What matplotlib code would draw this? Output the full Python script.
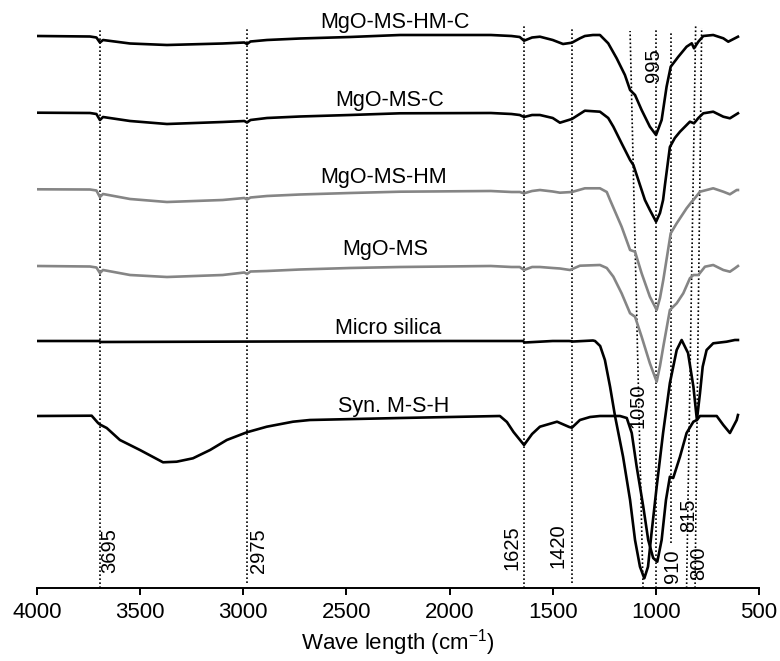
import matplotlib
matplotlib.use("Agg")
import matplotlib.pyplot as plt

plt.rcParams["font.family"] = ["Liberation Sans", "DejaVu Sans"]

# stacked FTIR spectra, wavenumber (cm-1) vs. transmittance (a.u., offset)
hmc_wn = [4000, 3743, 3712, 3695, 3680, 3549, 3370, 3100, 2995, 2982, 2965, 2885, 2725, 2483, 2240,
          1800, 1700, 1660, 1639, 1600, 1562, 1500, 1450, 1407, 1368, 1344, 1305, 1271, 1231, 1190,
          1150, 1125, 1101, 1069, 1029, 999, 972, 948, 928, 891, 851, 826, 815, 794, 770, 722, 673,
          649, 617, 602]
hmc_t = [552, 551.5, 550.5, 545.5, 548, 544.5, 543, 544.5, 545.5, 544, 546.5, 548, 549.5, 551, 553,
         553, 552, 551, 547.3, 550.5, 551.3, 548, 544, 545.3, 549.7, 552, 553, 553, 544.7, 529.7,
         513, 498, 493, 478, 461.3, 453, 468, 501.3, 521.3, 531.3, 541.3, 544.7, 539.7, 546.3, 552,
         553, 549.7, 546.3, 549.7, 551.3]

c_wn = [4000, 3743, 3712, 3695, 3680, 3549, 3370, 3100, 2995, 2982, 2965, 2885, 2725, 2483, 2240,
        1800, 1700, 1660, 1639, 1600, 1562, 1500, 1465, 1407, 1344, 1271, 1231, 1206, 1166, 1125,
        1109, 1085, 1053, 1029, 999, 980, 965, 956, 932, 908, 883, 835, 815, 794, 770, 722, 673,
        641, 602]
c_t = [475.3, 475, 474, 468, 471, 467, 464, 466, 467, 465.5, 468, 470, 471.5, 473, 474.7,
       475, 474, 473, 471, 473, 473, 470, 465.3, 469, 477.3, 476.3, 470, 461.3, 444.7, 428,
       423, 408, 388, 378, 366.3, 375, 388, 403, 441, 450, 456.3, 466.3, 464.7, 470, 474.7,
       476.3, 471.3, 469.7, 474.7]

hm_wn = [4000, 3743, 3712, 3695, 3680, 3549, 3370, 3100, 2995, 2982, 2965, 2885, 2725, 2483, 2240,
         1800, 1700, 1660, 1639, 1600, 1562, 1500, 1465, 1407, 1344, 1271, 1238, 1222, 1166, 1125,
         1101, 1069, 1029, 996, 980, 964, 928, 899, 851, 826, 818, 786, 722, 673, 641, 608, 602]
hm_t = [398.7, 398.5, 397.5, 391, 394, 389, 386, 388, 390, 388.5, 390.5, 392, 393.5, 395, 396.3,
        397, 396, 396, 394.7, 397, 398, 396.5, 395.3, 396, 399.7, 399.7, 396, 388, 361.3, 338,
        336.3, 314.7, 291.3, 278, 290, 308, 354.7, 364.7, 379.7, 386.3, 388, 396.3, 399.7, 396.3,
        393.7, 398, 398]

ms_wn = [4000, 3743, 3712, 3695, 3680, 3549, 3370, 3100, 2995, 2982, 2965, 2885, 2725, 2483, 2240,
         1800, 1700, 1660, 1639, 1600, 1562, 1500, 1465, 1416, 1368, 1271, 1238, 1206, 1166, 1125,
         1101, 1069, 1029, 996, 980, 964, 932, 899, 867, 835, 818, 794, 762, 722, 673, 641, 617, 602]
ms_t = [322, 321.5, 320.5, 315, 318, 313, 311, 313, 315.5, 314, 316.5, 317, 318.5, 320, 321,
        322, 321, 321, 318, 321, 321, 320, 319.5, 318, 322.3, 323, 320, 311.3, 294.7, 274.7,
        271.3, 251.3, 224.7, 206.3, 222, 241.3, 278, 284.7, 294.7, 309.7, 313, 313, 321.3, 323,
        318, 316.3, 319.7, 322]

si_wn = [4000, 3700, 3690, 2000, 1700, 1645, 1635, 1500, 1420, 1400, 1305, 1295, 1270, 1247, 1222,
         1198, 1159, 1125, 1101, 1077, 1056, 1038, 1021, 996, 965, 932, 899, 875, 844, 818, 801,
         786, 773, 754, 722, 657, 617, 602]
si_t = [247, 247, 246, 247, 247, 247, 245.5, 247, 247, 246.5, 247.5, 247, 242, 228, 201.3,
        172, 131.3, 88, 48, 21.3, 9.7, 21.3, 55, 101.3, 155, 205, 238, 248, 235, 201.3, 168,
        195, 221.3, 238, 244.7, 246.3, 248, 248]

syn_wn = [4000, 3735, 3704, 3695, 3662, 3598, 3501, 3389, 3323, 3244, 3161, 3080, 2983, 2886, 2759,
          2677, 2240, 1756, 1722, 1690, 1639, 1600, 1562, 1479, 1420, 1407, 1368, 1319, 1271, 1174,
          1141, 1117, 1093, 1061, 1037, 1013, 993, 972, 951, 932, 916, 883, 851, 818, 801, 786,
          705, 673, 641, 608, 602]
syn_t = [172, 172.3, 165, 163.5, 160, 148, 138, 125.7, 126.3, 129.7, 138, 148, 155.7, 161.3, 166.3,
         168, 170, 172, 166, 156, 143, 154, 161.3, 166.3, 161, 160.3, 168, 171, 172, 172,
         170, 155, 121.3, 81.3, 48, 30, 26.3, 48, 88, 111.3, 110, 131.3, 155, 166.3, 168, 172,
         172, 163, 155, 168, 173]

names = ["MgO-MS-HM-C", "MgO-MS-C", "MgO-MS-HM", "MgO-MS", "Micro silica", "Syn. M-S-H"]
colors = ["black", "black", "#858585", "#858585", "black", "black"]
spectra = [(hmc_wn, hmc_t), (c_wn, c_t), (hm_wn, hm_t), (ms_wn, ms_t), (si_wn, si_t), (syn_wn, syn_t)]
name_wn = [2265, 2289, 2318, 2313, 2298, 2269]
name_t = [560, 482, 405, 333, 254, 176]

# marker lines (hand drawn in the original, some slightly slanted)
band_labels = ["3695", "2975", "1625", "1420", "1050", "995", "910", "815", "800"]
band_bot = [3695, 2980, 1640, 1408, 1062, 998, 928, 851, 810]
band_top = [3695, 2980, 1640, 1408, 1125, 998, 928, 807, 778]
band_top_t = [560, 561, 562, 559, 557, 559, 556, 562, 560]
band_bot_t = [0, 5, 0, 5, 0, 0, 45, 0, 0]
label_wn = [3646, 2924, 1699, 1474, 1087, 1013, 919, 843, 794]
label_t = [15, 15, 18, 20, 160, 506, 5, 56, 8]

fig = plt.figure(figsize=(7.8, 6.61), dpi=100)
ax = fig.add_axes([37 / 780, 73 / 661, 722 / 780, 588 / 661])

for lo, hi, tb, tt in zip(band_bot, band_top, band_bot_t, band_top_t):
    ax.plot([lo, hi], [tb, tt], color="black", lw=1.2, ls=(0, (1, 1.4)), zorder=1)

for (wn, t), col in zip(spectra, colors):
    ax.plot(wn, t, color=col, lw=1.9, solid_joinstyle="round", zorder=3)

for n, x, y in zip(names, name_wn, name_t):
    ax.text(x, y, n, ha="center", va="baseline", fontsize=15.5)

for lab, x, y in zip(band_labels, label_wn, label_t):
    ax.text(x, y, lab, rotation=90, ha="center", va="bottom", fontsize=14.5)

ax.set_xlim(4000, 500)
ax.set_ylim(0, 588)
ax.set_xticks(range(4000, 499, -500))
ax.set_yticks([])
for s in ("left", "right", "top"):
    ax.spines[s].set_visible(False)
ax.spines["bottom"].set_linewidth(1.4)
ax.tick_params(axis="x", direction="out", length=5, width=1.4, labelsize=16, pad=5)
ax.set_xlabel(r"Wave length (cm$^{\mathregular{-1}}$)", fontsize=16, labelpad=3)

fig.savefig("out.png", dpi=100)
